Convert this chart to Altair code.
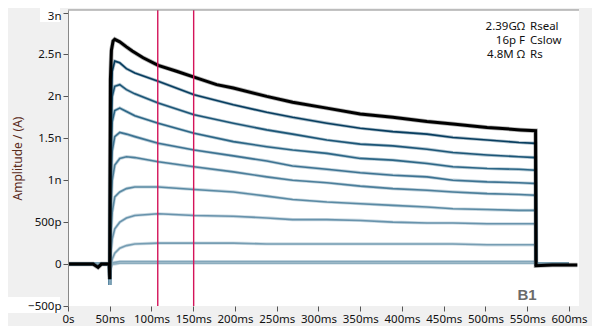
import altair as alt
import pandas as pd

# ---- data (time in ms, current in nA) ----
black_t = [0, 20, 30, 36, 40, 49.5, 50, 50.8, 52, 54, 56, 62, 70, 77, 90, 108, 130, 151, 178, 198,
           238, 269, 310, 350, 389, 430, 461, 502, 542, 560, 560.5, 580, 610]
black_v = [0.0, 0.0, 0.0, -0.04, 0.0, 0.0, -0.18, 2.2, 2.55, 2.66, 2.68, 2.65, 2.59, 2.54, 2.46, 2.37, 2.30, 2.23, 2.14, 2.10,
           2.00, 1.93, 1.86, 1.79, 1.75, 1.70, 1.67, 1.63, 1.60, 1.59, -0.02, -0.01, -0.01]

trace_t = [0, 49.5, 50, 51, 53, 56, 62, 70, 80, 108, 151, 198, 238, 269, 310, 350, 389, 430, 461, 502, 540, 560, 560.5, 600]

trace_names = ["t2", "t3", "t4", "t5", "t6", "t7", "t8", "t9", "t10", "t11"]
trace_colors = ["#073d5f", "#1c5677", "#2c6686", "#3d7392", "#4c7f9b", "#5a8aa4", "#6893ac", "#769db3", "#83a6ba", "#8daebf"]

t2 = [0, 0, -0.25, 1.6, 2.3, 2.42, 2.40, 2.33, 2.28, 2.18, 2.02, 1.90, 1.81, 1.75, 1.68, 1.62, 1.58, 1.55, 1.51, 1.48, 1.45, 1.44, 0, 0]
t3 = [0, 0, -0.25, 1.5, 2.0, 2.12, 2.14, 2.08, 2.03, 1.92, 1.78, 1.68, 1.60, 1.55, 1.48, 1.43, 1.41, 1.37, 1.33, 1.30, 1.28, 1.27, 0, 0]
t4 = [0, 0, -0.25, 1.2, 1.7, 1.83, 1.86, 1.82, 1.77, 1.68, 1.56, 1.46, 1.40, 1.36, 1.32, 1.26, 1.24, 1.20, 1.16, 1.14, 1.13, 1.12, 0, 0]
t5 = [0, 0, -0.25, 0.9, 1.35, 1.52, 1.57, 1.55, 1.52, 1.44, 1.36, 1.29, 1.23, 1.17, 1.13, 1.09, 1.06, 1.04, 1.00, 0.98, 0.97, 0.96, 0, 0]
t6 = [0, 0, -0.25, 0.6, 1.0, 1.18, 1.26, 1.28, 1.27, 1.22, 1.16, 1.10, 1.04, 1.00, 0.97, 0.93, 0.90, 0.88, 0.86, 0.84, 0.83, 0.82, 0, 0]
t7 = [0, 0, -0.25, 0.3, 0.62, 0.80, 0.86, 0.90, 0.92, 0.92, 0.89, 0.86, 0.81, 0.77, 0.74, 0.72, 0.70, 0.68, 0.66, 0.65, 0.64, 0.64, 0, 0]
t8 = [0, 0, -0.25, 0.1, 0.30, 0.42, 0.50, 0.55, 0.58, 0.60, 0.58, 0.57, 0.55, 0.53, 0.53, 0.52, 0.50, 0.49, 0.49, 0.48, 0.48, 0.48, 0, 0]
t9 = [0, 0, -0.25, -0.05, 0.06, 0.13, 0.19, 0.22, 0.24, 0.25, 0.25, 0.25, 0.24, 0.24, 0.24, 0.24, 0.24, 0.24, 0.24, 0.23, 0.23, 0.23, 0, 0]
t10 = [0, 0, -0.25, -0.05, 0.01, 0.02, 0.03, 0.03, 0.03, 0.03, 0.03, 0.03, 0.03, 0.03, 0.03, 0.03, 0.03, 0.03, 0.03, 0.03, 0.03, 0.03, 0, 0]
t11 = [0, 0, -0.20, -0.05, 0.0, 0.0, 0.01, 0.01, 0.01, 0.01, 0.01, 0.01, 0.01, 0.01, 0.01, 0.01, 0.01, 0.01, 0.01, 0.01, 0.01, 0.01, 0, 0]
trace_values = [t2, t3, t4, t5, t6, t7, t8, t9, t10, t11]

cursor_t = [107.5, 150.5]

x_ticks = [0, 50, 100, 150, 200, 250, 300, 350, 400, 450, 500, 550, 600]
y_ticks = [-0.5, 0, 0.5, 1, 1.5, 2, 2.5, 3]

info_values = ["2.39G\u03a9", "16p F", "4.8M \u03a9"]
info_names = ["Rseal", "Cslow", "Rs"]

# ---- build tables ----
rows = []
for name, vals in zip(trace_names, trace_values):
    for i, (t, v) in enumerate(zip(trace_t, vals)):
        rows.append({"t": t, "v": v, "trace": name, "i": i})
traces_df = pd.DataFrame(rows)
black_df = pd.DataFrame({"t": black_t, "v": black_v, "i": list(range(len(black_t)))})
cursor_df = pd.DataFrame({"t": cursor_t})
info_df = pd.DataFrame({"val": info_values, "name": info_names, "row": [0, 1, 2]})

W, H = 511, 296
FONT = "Noto Sans"

xscale = alt.Scale(domain=[0, 612], nice=False, zero=False)
yscale = alt.Scale(domain=[-0.5, 3.03], nice=False, zero=False)

x_axis = alt.Axis(values=x_ticks, labelExpr="datum.value == 0 ? '0s' : datum.value + 'ms'",
                  title=None, grid=False, domain=False, tickColor="#555", tickSize=5,
                  labelFont=FONT, labelFontSize=11.5, labelColor="#111", labelPadding=2,
                  labelFlush=False, labelOverlap=False, zindex=1)
y_axis = alt.Axis(values=y_ticks,
                  labelExpr="datum.value == 0 ? '0' : (abs(datum.value) < 1 ? format(datum.value*1000, 'd') + 'p' : datum.value + 'n')",
                  labelOffset={"condition": {"test": "datum.value == 3", "value": 4}, "value": 0},
                  title="Amplitude / (A)", titleFont=FONT, titleFontSize=12, titleFontWeight="normal",
                  titleColor="#5a2a1a", titleX=-51, titleAngle=-90, titleBaseline="middle",
                  grid=False, domainColor="#888", tickColor="#555", tickSize=5,
                  labelFont=FONT, labelFontSize=11.5, labelColor="#111", labelPadding=2,
                  labelFlush=False, labelOverlap=False, zindex=1)

# white label boxes (like the editable end labels)
boxes = alt.Chart(pd.DataFrame({"k": [0]})).mark_rect(color="white").encode(
    x=alt.value(-28), x2=alt.value(-8), y=alt.value(-10), y2=alt.value(12)
)
boxes2 = alt.Chart(pd.DataFrame({"k": [0]})).mark_rect(color="white").encode(
    x=alt.value(-60), x2=alt.value(-8), y=alt.value(287), y2=alt.value(303)
)

trace_color = alt.Color("trace:N", scale=alt.Scale(domain=trace_names, range=trace_colors), legend=None)

# soft halo to mimic the noisy band, then the core line
traces_halo = alt.Chart(traces_df).mark_line(strokeWidth=3.2, opacity=0.35, clip=True).encode(
    x=alt.X("t:Q", scale=xscale, axis=x_axis),
    y=alt.Y("v:Q", scale=yscale, axis=y_axis),
    color=trace_color,
    order="i:Q",
)
traces_core = alt.Chart(traces_df).mark_line(strokeWidth=1.6, clip=True).encode(
    x=alt.X("t:Q", scale=xscale),
    y=alt.Y("v:Q", scale=yscale),
    color=trace_color,
    order="i:Q",
)

black_halo = alt.Chart(black_df).mark_line(strokeWidth=4.5, color="black", opacity=0.3, clip=True).encode(
    x=alt.X("t:Q", scale=xscale),
    y=alt.Y("v:Q", scale=yscale),
    order="i:Q",
)
black_line = alt.Chart(black_df).mark_line(strokeWidth=3, color="black", clip=True).encode(
    x=alt.X("t:Q", scale=xscale),
    y=alt.Y("v:Q", scale=yscale),
    order="i:Q",
)

cursors = alt.Chart(cursor_df).mark_rule(color="#d4145a", strokeWidth=1.4).encode(
    x=alt.X("t:Q", scale=xscale)
)

top_border = alt.Chart(pd.DataFrame({"k": [0]})).mark_rule(color="#888", strokeWidth=1).encode(
    x=alt.value(0), x2=alt.value(W), y=alt.value(0)
)

info_layers = []
for r, (val, nm) in enumerate(zip(info_values, info_names)):
    ypix = 17 + 14 * r
    sub = info_df[info_df["row"] == r]
    info_layers.append(alt.Chart(sub).mark_text(align="right", baseline="middle", font=FONT, fontSize=11.5,
                                                color="#111").encode(x=alt.value(457), y=alt.value(ypix), text="val:N"))
    info_layers.append(alt.Chart(sub).mark_text(align="left", baseline="middle", font=FONT, fontSize=11.5,
                                                color="#111").encode(x=alt.value(462), y=alt.value(ypix), text="name:N"))

b1 = alt.Chart(pd.DataFrame({"label": ["B1"]})).mark_text(
    font="Liberation Sans", fontSize=15, fontWeight="bold", color="#6b6b6b", align="center", baseline="middle"
).encode(x=alt.value(459), y=alt.value(285), text="label:N")

chart = alt.layer(
    traces_halo, traces_core, black_halo, black_line, cursors, top_border, boxes, boxes2, *info_layers, b1
).properties(
    width=W, height=H,
    background="#f0f0f0",
    padding={"left": 60, "top": 2, "right": 13, "bottom": 20},
    autosize=alt.AutoSizeParams(type="none"),
).configure_view(fill="white", stroke=None)

chart.save("out.html", embed_options={"renderer": "svg", "actions": False})
